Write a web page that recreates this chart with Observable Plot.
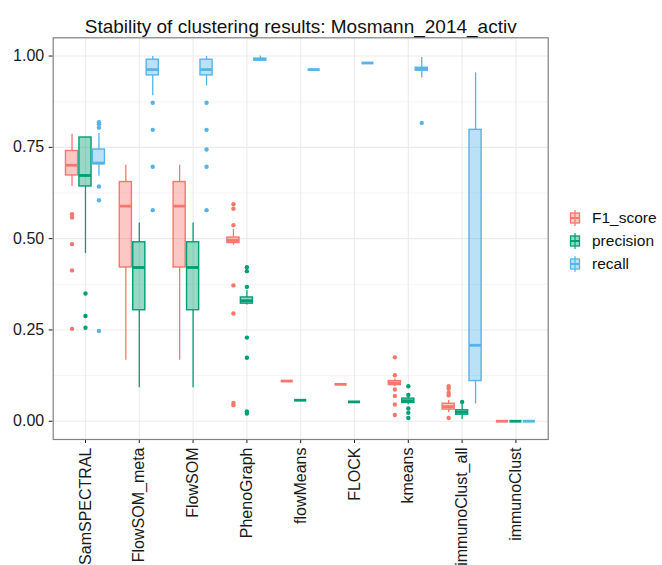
<!DOCTYPE html>
<html>
<head>
<meta charset="utf-8">
<script src="https://cdn.jsdelivr.net/npm/d3@7"></script>
<script src="https://cdn.jsdelivr.net/npm/@observablehq/plot@0.6"></script>
<style>
  html, body { margin: 0; padding: 0; background: white; }
</style>
</head>
<body>
<div id="chart"></div>
<script>
const titleText = "Stability of clustering results: Mosmann_2014_activ";
const categories = ["SamSPECTRAL","FlowSOM_meta","FlowSOM","PhenoGraph","flowMeans","FLOCK","kmeans","immunoClust_all","immunoClust"];
const seriesNames = ["F1_score","precision","recall"];
const strokeColors = ["#F8766D","#009E73","#56B4E9"];
const yTicks = [0, 0.25, 0.5, 0.75, 1];
const yMinor = [0.125, 0.375, 0.625, 0.875];

// F1_score box stats
const f1Low = [0.643, 0.167, 0.167, 0.482, 0.110, 0.101, 0.095, 0.023, 0];
const f1Q1  = [0.673, 0.421, 0.421, 0.488, 0.110, 0.101, 0.099, 0.032, 0];
const f1Med = [0.701, 0.589, 0.589, 0.495, 0.110, 0.101, 0.105, 0.040, 0];
const f1Q3  = [0.740, 0.655, 0.655, 0.503, 0.110, 0.101, 0.110, 0.048, 0];
const f1High= [0.786, 0.701, 0.701, 0.525, 0.110, 0.101, 0.116, 0.057, 0];
const f1Out = [[0.567,0.558,0.485,0.413,0.253],[],[],[0.594,0.582,0.537,0.372,0.295,0.050,0.044],[],[],[0.175,0.126,0.087,0.069,0.046,0.017],[0.096,0.089,0.078,0.071,0.009],[]];

// precision box stats
const prLow = [0.459, 0.092, 0.092, 0.318, 0.0575, 0.053, 0.045, 0.005, 0];
const prQ1  = [0.643, 0.304, 0.304, 0.322, 0.0575, 0.053, 0.050, 0.018, 0];
const prMed = [0.673, 0.421, 0.421, 0.330, 0.0575, 0.053, 0.056, 0.025, 0];
const prQ3  = [0.777, 0.490, 0.490, 0.339, 0.0575, 0.053, 0.062, 0.030, 0];
const prHigh= [0.777, 0.543, 0.543, 0.357, 0.0575, 0.053, 0.066, 0.046, 0];
const prOut = [[0.350,0.288,0.256],[],[],[0.422,0.411,0.368,0.229,0.174,0.027,0.021],[],[],[0.096,0.072,0.035,0.023,0.009],[0.053],[]];

// recall box stats
const reLow = [0.671, 0.891, 0.918, 0.988, 0.963, 0.981, 0.940, 0.047, 0];
const reQ1  = [0.704, 0.947, 0.947, 0.988, 0.963, 0.981, 0.960, 0.110, 0];
const reMed = [0.707, 0.963, 0.963, 0.991, 0.963, 0.981, 0.964, 0.208, 0];
const reQ3  = [0.744, 0.990, 0.990, 0.993, 0.963, 0.981, 0.968, 0.798, 0];
const reHigh= [0.788, 0.999, 0.999, 1.000, 0.963, 0.981, 0.996, 0.954, 0];
const reOut = [[0.819,0.813,0.804,0.643,0.605,0.247],[0.872,0.798,0.697,0.578],[0.872,0.798,0.744,0.697,0.578],[],[],[],[0.817],[],[]];

// ---- build tables ----
const stats = [
  [f1Low, f1Q1, f1Med, f1Q3, f1High, f1Out],
  [prLow, prQ1, prMed, prQ3, prHigh, prOut],
  [reLow, reQ1, reMed, reQ3, reHigh, reOut]
];
const dodge = 0.25, halfW = 0.1125;
const rows = [], outRows = [];
stats.forEach(([lo, q1, med, q3, hi, out], s) => {
  categories.forEach((c, i) => {
    const xc = i + (s - 1) * dodge;
    rows.push({series: seriesNames[s], xc, lo: lo[i], q1: q1[i], med: med[i], q3: q3[i], hi: hi[i]});
    out[i].forEach(v => outRows.push({series: seriesNames[s], xc, v}));
  });
});

const font = "'Liberation Sans', Arial, Helvetica, sans-serif";

const svg = Plot.plot({
  width: 662,
  height: 565,
  marginLeft: 52.7,
  marginRight: 114.3,
  marginTop: 37.3,
  marginBottom: 126,
  style: {fontFamily: font, fontSize: "16px", color: "#1a1a1a", background: "white", overflow: "visible"},
  x: {domain: [-0.6, categories.length - 0.4], ticks: d3.range(categories.length), tickFormat: i => categories[i], tickRotate: -90, tickSize: 4, tickPadding: 4, label: null},
  y: {domain: [-0.05, 1.05], ticks: yTicks, tickFormat: d3.format(".2f"), tickSize: 4, tickPadding: 5, label: null},
  color: {domain: seriesNames, range: strokeColors},
  marks: [
    Plot.ruleY(yMinor, {stroke: "#f3f3f3", strokeWidth: 0.8}),
    Plot.ruleY(yTicks, {stroke: "#ebebeb", strokeWidth: 1.1}),
    Plot.ruleX(d3.range(categories.length), {stroke: "#ebebeb", strokeWidth: 1.1}),
    Plot.ruleX(rows, {x: "xc", y1: "q3", y2: "hi", stroke: "series", strokeWidth: 1.3}),
    Plot.ruleX(rows, {x: "xc", y1: "lo", y2: "q1", stroke: "series", strokeWidth: 1.3}),
    Plot.rect(rows, {x1: d => d.xc - halfW, x2: d => d.xc + halfW, y1: "q1", y2: "q3", fill: "series", fillOpacity: 0.4, stroke: "series", strokeWidth: 1.4}),
    Plot.ruleY(rows, {y: "med", x1: d => d.xc - halfW, x2: d => d.xc + halfW, stroke: "series", strokeWidth: 2.8}),
    Plot.dot(outRows, {x: "xc", y: "v", fill: "series", r: 2.2}),
    Plot.frame({stroke: "#808080", strokeWidth: 1.2}),
    Plot.text([titleText], {text: d => d, frameAnchor: "top", dy: -18, fontSize: 19, fill: "#111"})
  ]
});

// ---- legend (ggplot-style boxplot keys) ----
const g = d3.select(svg).append("g").attr("font-family", font).attr("font-size", 15.5).attr("text-anchor", "start");
const color = svg.scale("color");
seriesNames.forEach((name, i) => {
  const cy = 218 + i * 23;
  const cx = 575;
  const c = color.apply(name);
  g.append("line").attr("x1", cx).attr("x2", cx).attr("y1", cy - 8).attr("y2", cy + 8).attr("stroke", c).attr("stroke-width", 1.2);
  g.append("rect").attr("x", cx - 4.5).attr("y", cy - 5).attr("width", 9).attr("height", 10)
    .attr("fill", c).attr("fill-opacity", 0.4).attr("stroke", c).attr("stroke-width", 1.3);
  g.append("line").attr("x1", cx - 4.5).attr("x2", cx + 4.5).attr("y1", cy).attr("y2", cy).attr("stroke", c).attr("stroke-width", 2);
  g.append("text").attr("x", 592).attr("y", cy).attr("dy", "0.35em").attr("fill", "#111").attr("text-anchor", "start").text(name);
});

document.getElementById("chart").appendChild(svg);
</script>
</body>
</html>
